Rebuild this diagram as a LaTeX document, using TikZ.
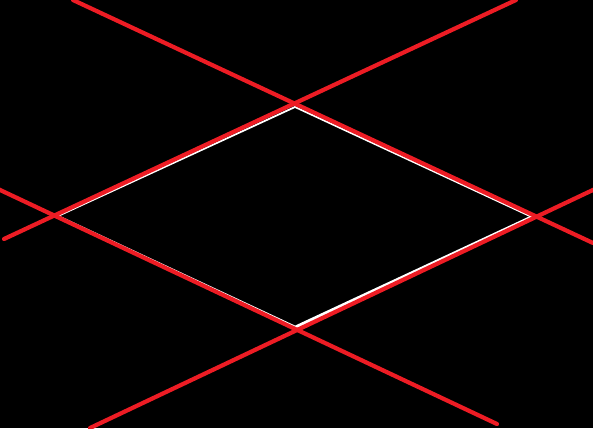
\documentclass[tikz,border=0pt]{standalone}
\usepackage{xcolor}
\definecolor{linered}{RGB}{237,28,36}

\begin{document}
\begin{tikzpicture}[
  x=1pt, y=-1pt,
  redline/.style={draw=linered, line width=4.2pt, line cap=round},
  whiteline/.style={draw=white, line width=1.8pt, line join=miter}
]
\useasboundingbox (0,0) rectangle (593,428);
\fill[black] (0,0) rectangle (593,428);
\clip (0,0) rectangle (593,428);

% inner rhombus corners
\coordinate (wtop) at (295,107);
\coordinate (wleft) at (58,216);
\coordinate (wbot) at (296,327);
\coordinate (wright) at (532,217);

% free ends of the four red lines
\coordinate (aS) at (73,0);    \coordinate (aE) at (593,243);
\coordinate (bS) at (4,239);   \coordinate (bE) at (516,0);
\coordinate (cS) at (-2,189);  \coordinate (cE) at (497,424);
\coordinate (dS) at (90,428);  \coordinate (dE) at (595,189);

\draw[whiteline] (wtop) -- (wleft) -- (wbot) -- (wright) -- cycle;
\draw[whiteline, line width=3.4pt] (wbot) -- (wright);

\draw[redline] (aS) -- (aE);
\draw[redline] (bS) -- (bE);
\draw[redline] (cS) -- (cE);
\draw[redline] (dS) -- (dE);
\end{tikzpicture}
\end{document}
